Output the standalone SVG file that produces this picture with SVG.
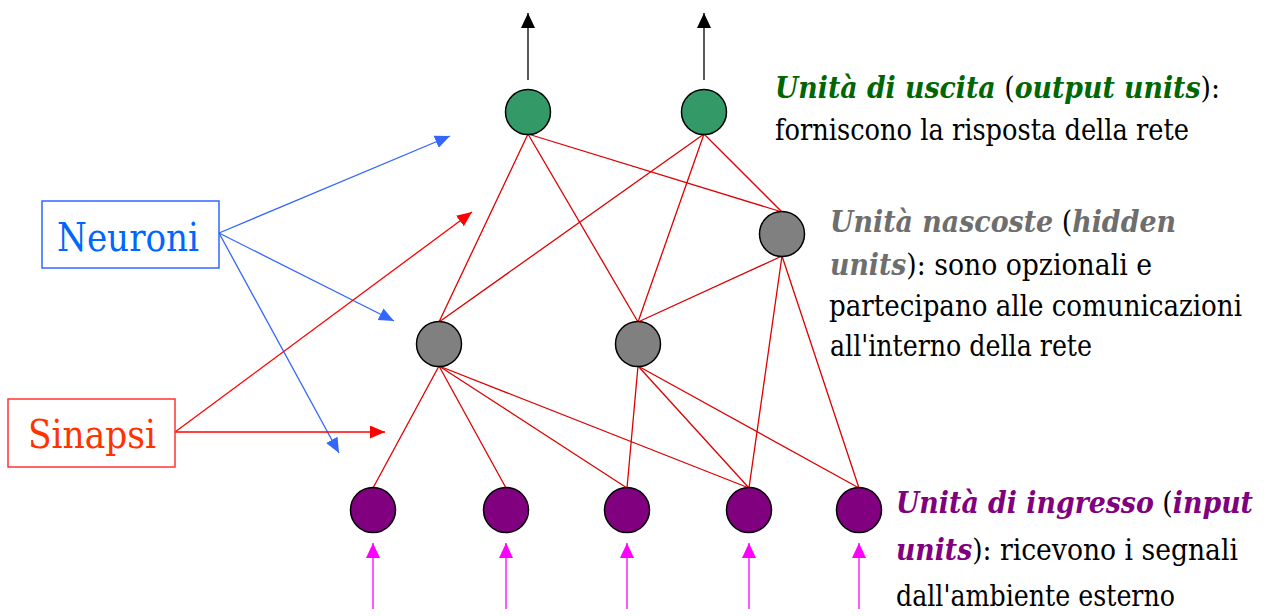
<svg xmlns="http://www.w3.org/2000/svg" width="1268" height="616" viewBox="0 0 1268 616">
<style>
.t{font-family:"DejaVu Serif Condensed","DejaVu Serif",serif;font-size:30px;fill:#000}
.bi{font-weight:bold;font-style:italic}
.lbl{font-family:"DejaVu Serif Condensed","DejaVu Serif",serif;font-size:40px}
.edge{stroke:#dd0000;stroke-width:1.3;fill:none}
.node{stroke:#000;stroke-width:1.5}
</style>
<defs>
<marker id="ab" markerUnits="userSpaceOnUse" markerWidth="16" markerHeight="14" refX="15" refY="6.5" orient="auto"><path d="M0,0 L15,6.5 L0,13 z" fill="#3366ff"/></marker>
<marker id="ar" markerUnits="userSpaceOnUse" markerWidth="16" markerHeight="14" refX="15" refY="6.5" orient="auto"><path d="M0,0 L15,6.5 L0,13 z" fill="#ff0000"/></marker>
<marker id="ak" markerUnits="userSpaceOnUse" markerWidth="16" markerHeight="14" refX="15" refY="7" orient="auto"><path d="M0,0 L15,7 L0,14 z" fill="#000"/></marker>
<marker id="am" markerUnits="userSpaceOnUse" markerWidth="16" markerHeight="14" refX="15" refY="7" orient="auto"><path d="M0,0 L15,7 L0,14 z" fill="#ff00ff"/></marker>
</defs>
<rect width="1268" height="616" fill="#fff"/>
<g id="connectors">
<line class="edge" x1="528" y1="134" x2="439" y2="322"/>
<line class="edge" x1="528" y1="134" x2="638" y2="322"/>
<line class="edge" x1="528" y1="134" x2="782" y2="212"/>
<line class="edge" x1="704" y1="134" x2="439" y2="322"/>
<line class="edge" x1="704" y1="134" x2="638" y2="322"/>
<line class="edge" x1="704" y1="134" x2="782" y2="212"/>
<line class="edge" x1="782" y1="256" x2="638" y2="322"/>
<line class="edge" x1="782" y1="256" x2="749" y2="488"/>
<line class="edge" x1="782" y1="256" x2="859" y2="488"/>
<line class="edge" x1="439" y1="366" x2="373" y2="488"/>
<line class="edge" x1="439" y1="366" x2="506" y2="488"/>
<line class="edge" x1="439" y1="366" x2="627" y2="488"/>
<line class="edge" x1="439" y1="366" x2="749" y2="488"/>
<line class="edge" x1="638" y1="366" x2="627" y2="488"/>
<line class="edge" x1="638" y1="366" x2="749" y2="488"/>
<line class="edge" x1="638" y1="366" x2="859" y2="488"/>
<line x1="528" y1="80" x2="528" y2="13" stroke="#000" stroke-width="1.3" marker-end="url(#ak)"/>
<line x1="704" y1="80" x2="704" y2="13" stroke="#000" stroke-width="1.3" marker-end="url(#ak)"/>
<line x1="373" y1="609" x2="373" y2="543" stroke="#ff00ff" stroke-width="1.3" marker-end="url(#am)"/>
<line x1="506" y1="609" x2="506" y2="543" stroke="#ff00ff" stroke-width="1.3" marker-end="url(#am)"/>
<line x1="627" y1="609" x2="627" y2="543" stroke="#ff00ff" stroke-width="1.3" marker-end="url(#am)"/>
<line x1="749" y1="609" x2="749" y2="543" stroke="#ff00ff" stroke-width="1.3" marker-end="url(#am)"/>
<line x1="859" y1="609" x2="859" y2="543" stroke="#ff00ff" stroke-width="1.3" marker-end="url(#am)"/>
<line x1="219" y1="233" x2="450" y2="136" stroke="#3366ff" stroke-width="1.3" marker-end="url(#ab)"/>
<line x1="219" y1="233" x2="394" y2="321" stroke="#3366ff" stroke-width="1.3" marker-end="url(#ab)"/>
<line x1="219" y1="233" x2="339" y2="453" stroke="#3366ff" stroke-width="1.3" marker-end="url(#ab)"/>
<line x1="175" y1="432" x2="472" y2="212" stroke="#ff0000" stroke-width="1.3" marker-end="url(#ar)"/>
<line x1="175" y1="432" x2="385" y2="432" stroke="#ff0000" stroke-width="1.3" marker-end="url(#ar)"/>
</g>
<g id="out1"><circle class="node" cx="528" cy="112" r="22.5" fill="#339966"/></g>
<g id="out2"><circle class="node" cx="704" cy="112" r="22.5" fill="#339966"/></g>
<g id="hid1"><circle class="node" cx="439" cy="344" r="22.5" fill="#808080"/></g>
<g id="hid2"><circle class="node" cx="638" cy="344" r="22.5" fill="#808080"/></g>
<g id="hid3"><circle class="node" cx="782" cy="234" r="22.5" fill="#808080"/></g>
<g id="in1"><circle class="node" cx="373" cy="510" r="22.5" fill="#800080"/></g>
<g id="in2"><circle class="node" cx="506" cy="510" r="22.5" fill="#800080"/></g>
<g id="in3"><circle class="node" cx="627" cy="510" r="22.5" fill="#800080"/></g>
<g id="in4"><circle class="node" cx="749" cy="510" r="22.5" fill="#800080"/></g>
<g id="in5"><circle class="node" cx="859" cy="510" r="22.5" fill="#800080"/></g>
<g id="neuroni">
<rect x="42" y="201" width="177" height="67" fill="#fff" stroke="#3366ff" stroke-width="1.5"/>
<text class="lbl" x="57" y="251" textLength="142" lengthAdjust="spacingAndGlyphs" fill="#0066ff">Neuroni</text>
</g>
<g id="sinapsi">
<rect x="8" y="399" width="167" height="68" fill="#fff" stroke="#ff3333" stroke-width="1.5"/>
<text class="lbl" x="28" y="448" textLength="128" lengthAdjust="spacingAndGlyphs" fill="#ff3300">Sinapsi</text>
</g>
<g id="label-output">
<text class="t" x="775" y="98" textLength="445" lengthAdjust="spacingAndGlyphs"><tspan class="bi" fill="#006600">Unità di uscita</tspan> (<tspan class="bi" fill="#006600">output units</tspan>):</text>
<text class="t" x="775" y="140" textLength="414" lengthAdjust="spacingAndGlyphs">forniscono la risposta della rete</text>
</g>
<g id="label-hidden">
<text class="t" x="830" y="232" textLength="346" lengthAdjust="spacingAndGlyphs"><tspan class="bi" fill="#6e6e6e">Unità nascoste</tspan> (<tspan class="bi" fill="#6e6e6e">hidden</tspan></text>
<text class="t" x="830" y="275" textLength="322" lengthAdjust="spacingAndGlyphs"><tspan class="bi" fill="#6e6e6e">units</tspan>): sono opzionali e</text>
<text class="t" x="829" y="316" textLength="413" lengthAdjust="spacingAndGlyphs">partecipano alle comunicazioni</text>
<text class="t" x="830" y="356" textLength="262" lengthAdjust="spacingAndGlyphs">all'interno della rete</text>
</g>
<g id="label-input">
<text class="t" x="896" y="513" textLength="357" lengthAdjust="spacingAndGlyphs"><tspan class="bi" fill="#800080">Unità di ingresso</tspan> (<tspan class="bi" fill="#800080">input</tspan></text>
<text class="t" x="896" y="560" textLength="342" lengthAdjust="spacingAndGlyphs"><tspan class="bi" fill="#800080">units</tspan>): ricevono i segnali</text>
<text class="t" x="896" y="606" textLength="279" lengthAdjust="spacingAndGlyphs">dall'ambiente esterno</text>
</g>
</svg>
